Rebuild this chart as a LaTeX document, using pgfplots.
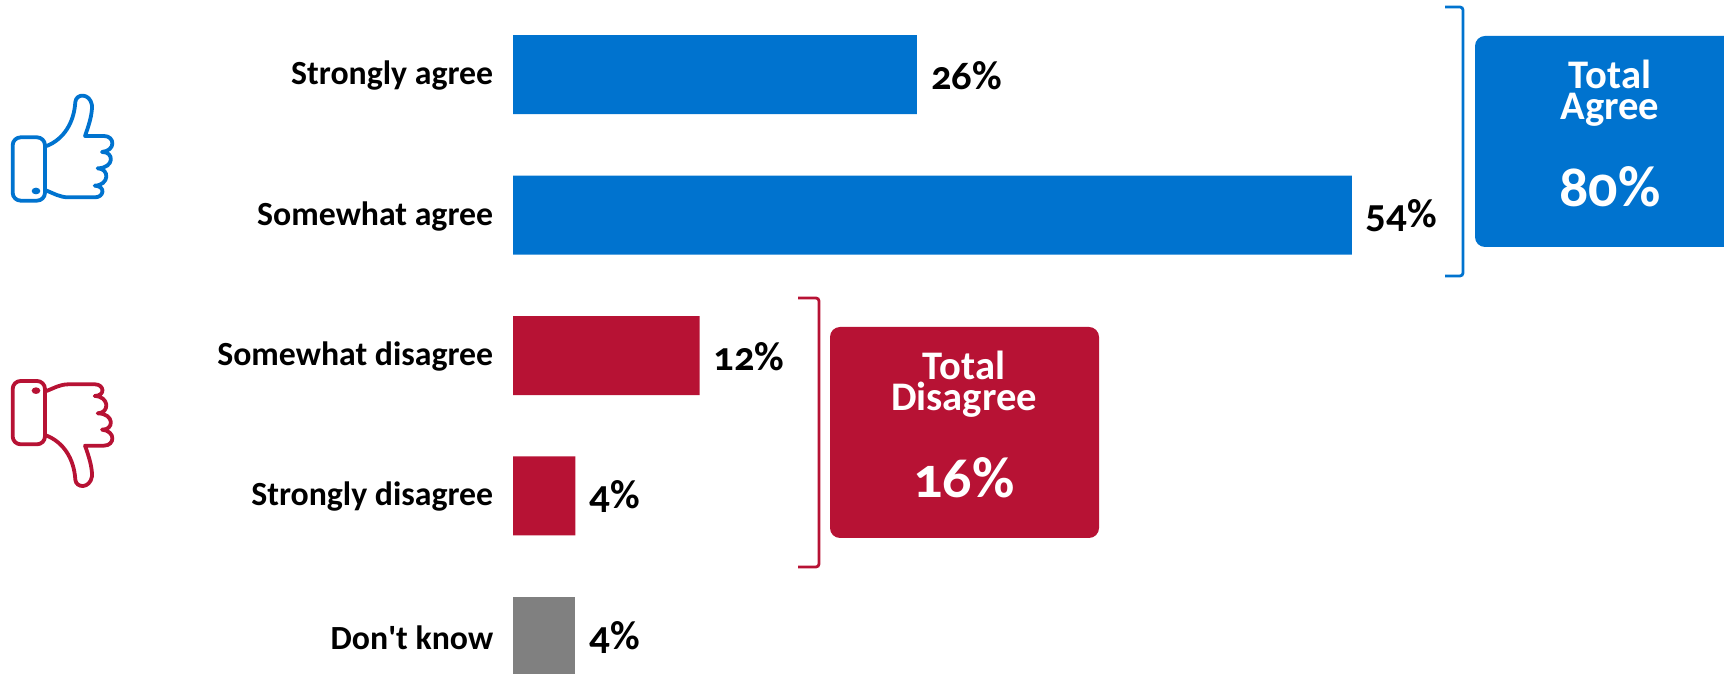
\documentclass[border=0pt]{standalone}
\usepackage{fontspec}
\setmainfont[Numbers=OldStyle]{Carlito}
\usepackage{pgfplots}
\pgfplotsset{compat=1.18}
\definecolor{agreeblue}{HTML}{0073CF}
\definecolor{disred}{HTML}{B71234}
\definecolor{dkgray}{HTML}{808080}

% hand outline in zoom coordinates (3 units = 1 px)
\newcommand{\hand}[1]{%
  \draw[#1,line width=1.9pt,line join=round,line cap=round,rounded corners=4pt]
    (38,172) rectangle (135,362);
  \fill[#1] (108,333) ellipse (13 and 10);
  \draw[#1,line width=1.9pt,line join=round,line cap=round]
    (140,198) .. controls (190,178) and (222,130) .. (226,66)
    .. controls (228,40) and (270,38) .. (276,76)
    .. controls (277,105) and (265,140) .. (255,168)
    -- (312,168) .. controls (345,168) and (348,212) .. (306,216)
    .. controls (342,214) and (345,264) .. (293,265)
    .. controls (330,266) and (328,316) .. (284,317)
    .. controls (318,318) and (312,352) .. (285,352)
    -- (205,352) .. controls (180,352) and (160,340) .. (140,332);
}

\begin{document}
\begin{tikzpicture}
\useasboundingbox (0,0) rectangle (862pt,337pt);
\begin{axis}[
  at={(0,0)},
  anchor=south west,
  width=862pt,
  height=337pt,
  scale only axis,
  xmin=-33.05,
  xmax=77.97,
  ymin=-0.532,
  ymax=4.268,
  y dir=reverse,
  xbar,
  bar width=39.5pt,
  bar shift=0pt,
  axis x line=none,
  axis y line=center,
  y axis line style={draw=none},
  major tick length=0pt,
  xtick=\empty,
  ytick={0,1,2,3,4},
  yticklabels={Strongly agree,Somewhat agree,Somewhat disagree,Strongly disagree,Don\textquotesingle t know},
  yticklabel style={font=\bfseries\fontsize{16.9}{18}\selectfont,anchor=east,xshift=-6.5pt,yshift=-0.5pt},
  point meta=x,
  nodes near coords={\pgfmathprintnumber[assume math mode=true]{\pgfplotspointmeta}\%},
  nodes near coords style={font=\bfseries\fontsize{20.3}{22}\selectfont,text=black,anchor=west,xshift=3.5pt,yshift=-0.5pt},
]
\addplot[fill=agreeblue,draw=none] coordinates {(26,0) (54,1)};
\addplot[fill=disred,draw=none] coordinates {(12,2) (4,3)};
\addplot[fill=dkgray,draw=none] coordinates {(4,4)};
\end{axis}

% annotations in reference pixels
\begin{scope}[x=0.5pt,y=-0.5pt,shift={(0pt,337pt)}]
  \draw[agreeblue,line width=1.4pt,rounded corners=1.5pt] (1445,7) -- (1463,7) -- (1463,276) -- (1445,276);
  \draw[disred,line width=1.4pt,rounded corners=1.5pt] (798,298) -- (819,298) -- (819,567) -- (798,567);
  \begin{scope}
    \clip (0,0) rectangle (1724,674);
    \fill[agreeblue,rounded corners=5pt] (1475,36) rectangle (1760,247);
  \end{scope}
  \fill[disred,rounded corners=5pt] (830,327) rectangle (1099,538);
  \begin{scope}[every node/.style={text=white,align=center,inner sep=0pt}]
    \node[anchor=north,font=\bfseries\fontsize{20.3}{15.5}\selectfont] at (1610,60) {Total\\Agree};
    \node[anchor=base,font=\bfseries\fontsize{29}{29}\selectfont] at (1610,207) {80\%};
    \node[anchor=north,font=\bfseries\fontsize{20.3}{15.5}\selectfont] at (964,351) {Total\\Disagree};
    \node[anchor=base,font=\bfseries\fontsize{29}{29}\selectfont] at (964,498) {16\%};
  \end{scope}
\end{scope}
\begin{scope}[x=0.16667pt,y=-0.16667pt,shift={(0pt,297pt)}]
  \hand{agreeblue}
\end{scope}
\begin{scope}[x=0.16667pt,y=0.16667pt,shift={(0pt,86.17pt)}]
  \hand{disred}
\end{scope}
\end{tikzpicture}
\end{document}
